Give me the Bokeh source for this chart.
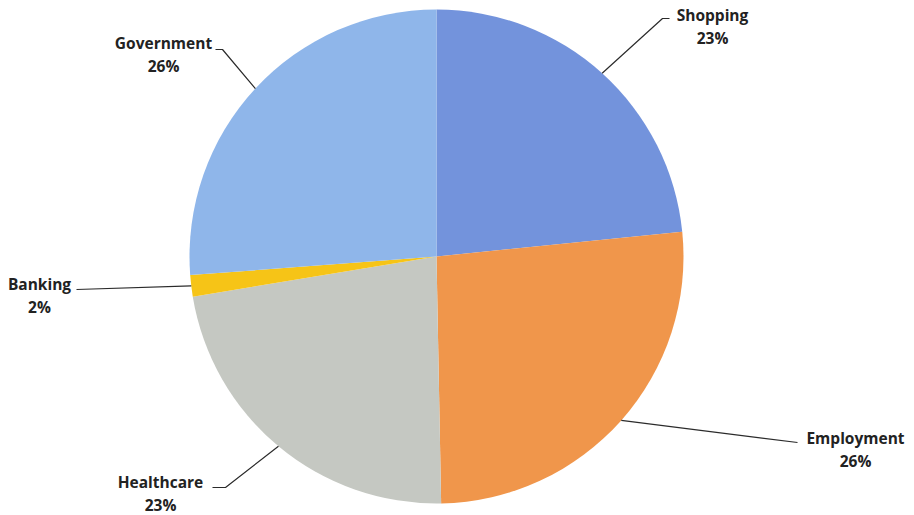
import math
from bokeh.plotting import figure
from bokeh.models import Range1d, ColumnDataSource
from bokeh.core.properties import value
from bokeh.embed import file_html
from bokeh.resources import INLINE

# ---- data ----
categories = ["Shopping", "Employment", "Healthcare", "Banking", "Government"]
shares = [23.4, 26.3, 22.7, 1.4, 26.2]
pct_labels = ["23%", "26%", "23%", "2%", "26%"]
colors = ["#7393dc", "#f0964b", "#c5c8c2", "#f6c417", "#8fb6ea"]

# ---- layout (pixel units, pie centre at origin, y up) ----
W, H = 914, 515
R = 247
# label centre of the name line (x, y)
label_pos = [(276, 242), (419, -181), (-276, -225), (-397, -27), (-273, 214)]
# leader line bend points (after leaving the pie edge)
bends = [
    [(226, 238), (233, 238)],
    [(361, -186)],
    [(-211, -231), (-224, -231)],
    [(-360, -33)],
    [(-214, 207), (-221, 207)],
]

p = figure(width=W, height=H, output_backend="svg", toolbar_location=None,
           x_range=Range1d(-436, 478), y_range=Range1d(-259, 256),
           min_border=0)
p.axis.visible = False
p.grid.visible = False
p.outline_line_color = None
p.background_fill_color = "white"

total = sum(shares)
starts, ends, mids = [], [], []
cum = 0.0
for s in shares:
    a0 = math.pi / 2 - 2 * math.pi * cum / total
    cum += s
    a1 = math.pi / 2 - 2 * math.pi * cum / total
    starts.append(a0)
    ends.append(a1)
    mids.append((a0 + a1) / 2)

src = ColumnDataSource(dict(x=[0] * len(shares), y=[0] * len(shares),
                            start=starts, end=ends, color=colors))
p.wedge(x="x", y="y", radius=R, start_angle="start", end_angle="end",
        direction="clock", fill_color="color", line_color=None, source=src)

# leader lines
for m, b in zip(mids, bends):
    xs = [R * math.cos(m)] + [pt[0] for pt in b]
    ys = [R * math.sin(m)] + [pt[1] for pt in b]
    p.line(xs, ys, line_color="#2b2b2b", line_width=1.2)

# labels
lx = [q[0] for q in label_pos]
ly = [q[1] for q in label_pos]
p.text(lx, ly, text=categories, text_font=value("Open Sans"),
       text_font_style="bold", text_font_size="15.5px", text_color="#222222",
       text_align="center", text_baseline="middle")
p.text(lx, [y - 23 for y in ly], text=pct_labels, text_font=value("Open Sans"),
       text_font_style="bold", text_font_size="15.5px", text_color="#222222",
       text_align="center", text_baseline="middle")

open("out.html", "w").write(file_html(p, INLINE))
